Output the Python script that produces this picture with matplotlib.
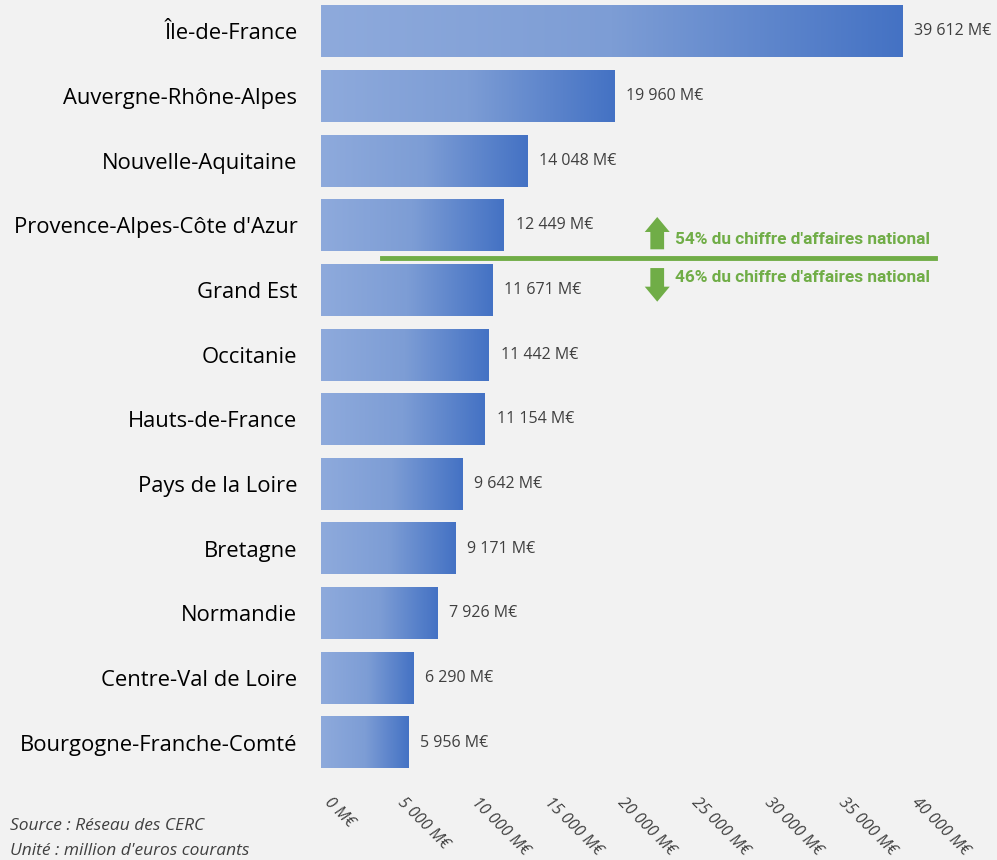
import numpy as np
from matplotlib import pyplot as plt
from matplotlib.colors import LinearSegmentedColormap
from matplotlib.ticker import FuncFormatter

regions = ["Île-de-France", "Auvergne-Rhône-Alpes", "Nouvelle-Aquitaine",
           "Provence-Alpes-Côte d'Azur", "Grand Est", "Occitanie",
           "Hauts-de-France", "Pays de la Loire", "Bretagne", "Normandie",
           "Centre-Val de Loire", "Bourgogne-Franche-Comté"]
values = [39612, 19960, 14048, 12449, 11671, 11442, 11154, 9642, 9171, 7926, 6290, 5956]
ticks = [0, 5000, 10000, 15000, 20000, 25000, 30000, 35000, 40000]
share_top = "54% du chiffre d'affaires national"
share_bottom = "46% du chiffre d'affaires national"

bg = "#F2F2F2"
green = "#70AD47"
cmap = LinearSegmentedColormap.from_list("bar", ["#8EAADC", "#7D9DD5", "#4472C4"])


def fmt(v):
    return f"{v:,.0f}".replace(",", " ") + " M€"


fig = plt.figure(figsize=(9.97, 8.6), dpi=100, facecolor=bg)
ax = fig.add_axes([0.322, 0.099, 0.589, 0.902])
ax.set_facecolor(bg)

grad = np.linspace(0, 1, 256).reshape(1, -1)
h = 0.8
for i, v in enumerate(values):
    ax.imshow(grad, cmap=cmap, aspect="auto", extent=[0, v, i + h / 2, i - h / 2], zorder=2)
    ax.text(v + 800, i, fmt(v), va="center", ha="left", fontsize=11.5,
            color="#404040", family="Open Sans")

ax.set_xlim(0, 40000)
ax.set_ylim(len(values) - 0.5, -0.5)
ax.set_yticks(range(len(regions)))
ax.set_yticklabels(regions, fontsize=15.8, family="Open Sans", color="#000000")
ax.set_xticks(ticks)
ax.xaxis.set_major_formatter(FuncFormatter(lambda x, p: fmt(x)))
for lab in ax.get_xticklabels():
    lab.set_rotation(-45)
    lab.set_ha("left")
    lab.set_va("top")
    lab.set_fontsize(11.5)
    lab.set_fontstyle("italic")
    lab.set_family("Open Sans")
    lab.set_color("#404040")
ax.tick_params(length=0)
ax.tick_params(axis="x", pad=14)
ax.tick_params(axis="y", pad=17)
for s in ax.spines.values():
    s.set_visible(False)

# 54% / 46% split
arrow = dict(arrowstyle="simple,head_width=1.0,head_length=0.6,tail_width=0.55",
             color=green, lw=0, mutation_scale=18, shrinkA=0, shrinkB=0)
ax.plot([4150, 41850], [3.5, 3.5], color=green, lw=3.5, clip_on=False, zorder=3)
ax.annotate("", xy=(22900, 2.87), xytext=(22900, 3.37), arrowprops=arrow)
ax.annotate("", xy=(22900, 4.18), xytext=(22900, 3.66), arrowprops=arrow)
ax.text(24100, 3.22, share_top, color=green, fontsize=12.4, fontweight="bold",
        family="Roboto", va="center", ha="left")
ax.text(24100, 3.8, share_bottom, color=green, fontsize=12.4, fontweight="bold",
        family="Roboto", va="center", ha="left")

fig.text(0.01, 0.039, "Source : Réseau des CERC", fontsize=12.5, style="italic",
         family="Open Sans", color="#404040", va="center")
fig.text(0.01, 0.011, "Unité : million d'euros courants", fontsize=12.5, style="italic",
         family="Open Sans", color="#404040", va="center")

fig.savefig("out.png", dpi=100, facecolor=bg)
